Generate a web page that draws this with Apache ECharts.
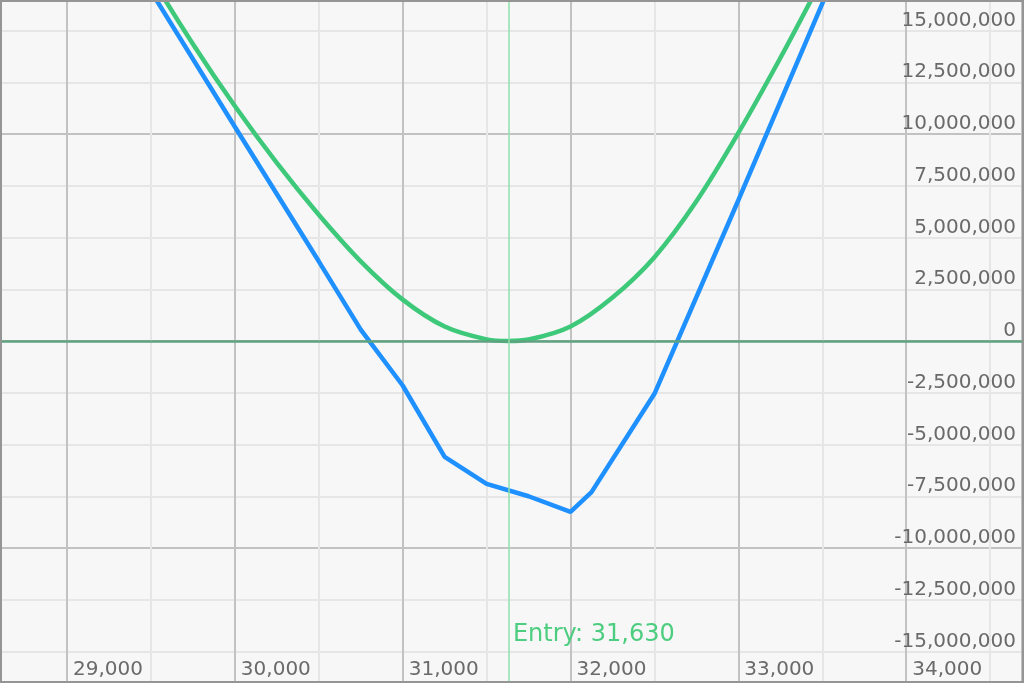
<!DOCTYPE html>
<html>
<head>
<meta charset="utf-8">
<style>
  html, body { margin: 0; padding: 0; background: #f7f7f7; }
  #chart { width: 1024px; height: 683px; }
</style>
<script src="https://cdn.jsdelivr.net/npm/echarts@6/dist/echarts.min.js"></script>
</head>
<body>
<div id="chart"></div>
<script>
// ---- Data ----
const bluePrices = [29000, 29500, 30000, 30500, 30750, 31000, 31250, 31500, 31750, 32000, 32125, 32500, 33000, 33500, 34000];
const blueValues = [23400000, 16900000, 10350000, 3850000, 550000, -2150000, -5600000, -6900000, -7500000, -8250000, -7300000, -2550000, 6800000, 16300000, 25800000];

const greenPrices = [29000, 29250, 29500, 29750, 30000, 30250, 30500, 30750, 31000, 31250, 31500, 31630, 31750, 32000, 32250, 32500, 32750, 33000, 33250, 33500, 33750, 34000];
const greenValues = [24800000, 21100000, 17600000, 14350000, 11350000, 8600000, 6100000, 3850000, 2000000, 700000, 80000, 0, 70000, 700000, 2100000, 4050000, 6750000, 10050000, 13670000, 17500000, 21400000, 25400000];

const entryPrice = 31630;
const entryLabel = 'Entry: 31,630';
const entryLabelY = -14200000;

const xMin = 28500, xMax = 34690, xStep = 500;
const yMin = -17500000, yMax = 17500000, yStep = 2500000;

// ---- Chart ----
const chart = echarts.init(document.getElementById('chart'), null, { renderer: 'canvas' });
const fontFamily = '"DejaVu Sans", Verdana, sans-serif';
const minor = '#e6e6e6', major = '#c2c2c2';

function zip(xs, ys) { return xs.map((x, i) => [x, ys[i]]); }

chart.setOption({
  animation: false,
  backgroundColor: '#f7f7f7',
  grid: {
    left: -16.9, right: 2, top: -21.25, bottom: -20.25,
    containLabel: false, outerBoundsMode: 'none'
  },
  xAxis: {
    type: 'value', min: xMin, max: xMax, interval: xStep,
    offset: -22,
    axisLine: { show: false, onZero: false },
    axisTick: { show: false },
    axisLabel: {
      inside: true, showMaxLabel: false, showMinLabel: false,
      align: 'left', verticalAlign: 'bottom', margin: 1,
      padding: [0, 0, 0, 6],
      color: '#6a6a6a', fontSize: 20, fontFamily: fontFamily,
      formatter: v => (v % 1000 === 0 ? v.toLocaleString('en-US') : '')
    },
    splitLine: { show: true, lineStyle: { color: [minor, major], width: 2 } }
  },
  yAxis: {
    type: 'value', position: 'right', min: yMin, max: yMax, interval: yStep,
    axisLine: { show: false, onZero: false },
    axisTick: { show: false },
    axisLabel: {
      inside: true, verticalAlign: 'bottom', margin: 6,
      color: '#6a6a6a', fontSize: 20, fontFamily: fontFamily,
      formatter: v => v.toLocaleString('en-US')
    },
    splitLine: { show: true, lineStyle: { color: [minor, minor, minor, major], width: 2 } }
  },
  series: [
    {
      name: 'Expiry', type: 'line', data: zip(bluePrices, blueValues),
      showSymbol: false, symbol: 'none', smooth: false,
      lineStyle: { color: '#1e90ff', width: 4.5 }, z: 3,
      markLine: {
        silent: true, symbol: ['none', 'none'], animation: false,
        label: { show: false },
        data: [
          { yAxis: 0, lineStyle: { color: '#5fa282', width: 2.5, type: 'solid' } }
        ]
      }
    },
    {
      name: 'Today', type: 'line', data: zip(greenPrices, greenValues),
      showSymbol: false, symbol: 'none', smooth: 0.35,
      lineStyle: { color: '#3ec97a', width: 4.5 }, z: 4,
      markLine: {
        silent: true, symbol: ['none', 'none'], animation: false,
        label: { show: false },
        data: [
          { xAxis: entryPrice, lineStyle: { color: '#8fe2ab', width: 1.5, type: 'solid' } }
        ]
      },
      markPoint: {
        silent: true, symbol: 'circle', symbolSize: 1,
        itemStyle: { color: 'rgba(0,0,0,0)' },
        label: {
          show: true, position: 'right', distance: 4,
          color: '#4ccd7f', fontSize: 24, fontFamily: fontFamily,
          formatter: () => entryLabel
        },
        data: [{ coord: [entryPrice, entryLabelY] }]
      }
    }
  ],
  graphic: [{
    type: 'rect', silent: true, z: 100,
    shape: { x: 1, y: 1, width: 1022, height: 681 },
    style: { fill: null, stroke: '#959595', lineWidth: 2 }
  }]
});
</script>
</body>
</html>
